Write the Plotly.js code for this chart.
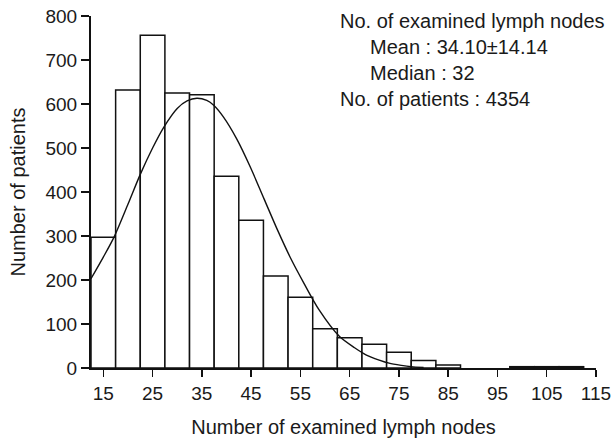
<!DOCTYPE html>
<html>
<head>
<meta charset="utf-8">
<script src="https://cdn.plot.ly/plotly-3.0.1.min.js"></script>
<style>html,body{margin:0;padding:0;background:#fff;}#chart{width:614px;height:438px;}</style>
</head>
<body>
<div id="chart"></div>
<script>
// Histogram: bin centres (number of examined lymph nodes) and counts (patients)
const binCenters = [15, 20, 25, 30, 35, 40, 45, 50, 55, 60, 65, 70, 75, 80, 85, 100, 105, 110];
const patientCounts = [297, 632, 756, 625, 621, 436, 336, 209, 161, 89, 69, 54, 36, 17, 7, 3, 3, 3];

// Fitted normal curve
const curveX = [12.5, 15, 17.2, 20, 22.5, 25, 27.2, 30, 32, 34, 36, 37.4, 39.4, 42.1, 44.9, 47.6, 50.3, 53, 55.7, 58.8, 62.9, 66, 68.3, 71, 73, 75.5, 77.5, 80];
const curveY = [203, 252, 298, 372, 440, 500, 546, 590, 607, 613, 608, 597, 570, 520, 455, 385, 315, 250, 193, 132, 72, 46, 30, 18, 11, 6, 3, 1];

// Axis ticks
const xTicks = [15, 25, 35, 45, 55, 65, 75, 85, 95, 105, 115];
const yTicks = [0, 100, 200, 300, 400, 500, 600, 700, 800];

// Text block
const infoLines = [
  "No. of examined lymph nodes",
  "Mean : 34.10±14.14",
  "Median : 32",
  "No. of patients : 4354"
];

const FONT = "Liberation Sans, Arial, sans-serif";
const INK = "#1a1a1a";

const traces = [
  {
    type: "bar",
    x: binCenters,
    y: patientCounts,
    width: 5,
    marker: {color: "#ffffff", line: {color: "#111111", width: 1.5}},
    hoverinfo: "skip"
  },
  {
    type: "scatter",
    mode: "lines",
    x: curveX,
    y: curveY,
    line: {color: "#111111", width: 1.4, shape: "spline", smoothing: 0.8},
    hoverinfo: "skip"
  }
];

const L = 91, R = 18, T = 16, B = 70;
const W = 614 - L - R, H = 438 - T - B;
const px2x = p => (p - L) / W;
const px2y = p => (438 - B - p) / H;

const infoPos = [
  {x: 338, y: 21},
  {x: 368, y: 47},
  {x: 368, y: 73},
  {x: 338, y: 99}
];

const annotations = infoLines.map((t, i) => ({
  text: t,
  xref: "paper", yref: "paper",
  x: px2x(infoPos[i].x), y: px2y(infoPos[i].y),
  xanchor: "left", yanchor: "middle",
  showarrow: false,
  font: {family: FONT, size: 20, color: INK}
}));

const layout = {
  width: 614, height: 438,
  margin: {l: L, r: R, t: T, b: B},
  paper_bgcolor: "#ffffff",
  plot_bgcolor: "#ffffff",
  showlegend: false,
  bargap: 0,
  font: {family: FONT, color: INK},
  xaxis: {
    range: [12.5, 115],
    tickvals: xTicks,
    ticktext: xTicks.map(String),
    showline: true, linecolor: "#111111", linewidth: 2,
    ticks: "outside", ticklen: 7, tickwidth: 1.5, tickcolor: "#111111",
    showgrid: false, zeroline: false,
    tickfont: {family: FONT, size: 19, color: INK},
    title: {text: "Number of examined lymph nodes", font: {family: FONT, size: 20, color: INK}, standoff: 18}
  },
  yaxis: {
    range: [0, 800],
    tickvals: yTicks,
    ticktext: yTicks.map(String),
    showline: true, linecolor: "#111111", linewidth: 2,
    ticks: "outside", ticklen: 8, tickwidth: 1.5, tickcolor: "#111111",
    showgrid: false, zeroline: false,
    tickfont: {family: FONT, size: 19, color: INK},
    title: {text: "Number of patients", font: {family: FONT, size: 20, color: INK}, standoff: 14}
  },
  annotations: annotations
};

Plotly.newPlot("chart", traces, layout, {staticPlot: true, displayModeBar: false});
</script>
</body>
</html>
